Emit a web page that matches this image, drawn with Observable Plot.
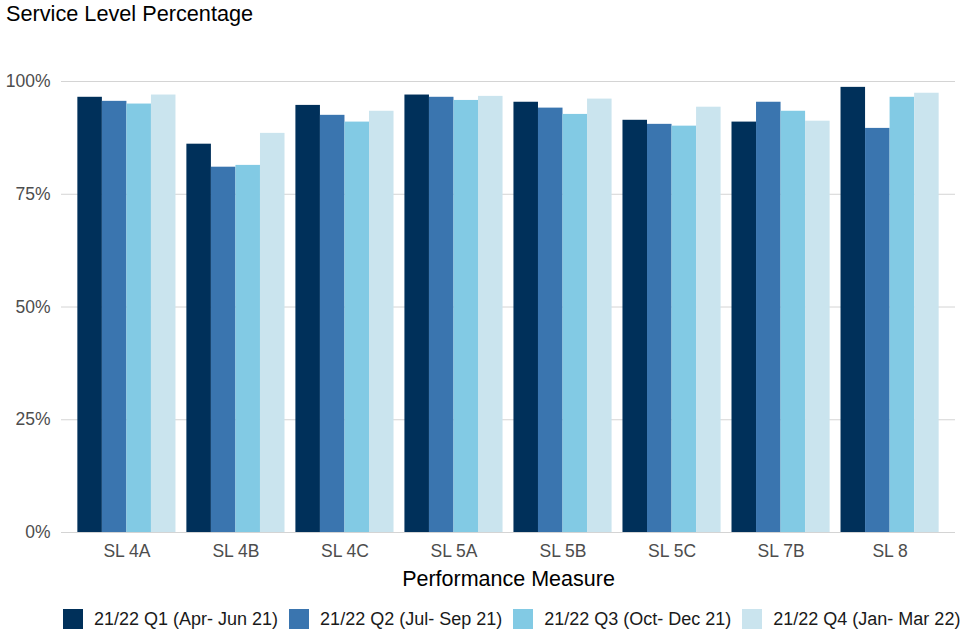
<!DOCTYPE html>
<html>
<head>
<meta charset="utf-8">
<script src="https://cdn.jsdelivr.net/npm/d3@7"></script>
<script src="https://cdn.jsdelivr.net/npm/@observablehq/plot@0.6"></script>
<style>
  html, body { margin: 0; padding: 0; background: #fff; }
  body { width: 960px; height: 640px; overflow: hidden; font-family: "Liberation Sans", Arial, sans-serif; }
  #title { height: 28px; line-height: 28px; font-size: 21.7px; padding-left: 6px; color: #000; white-space: nowrap; }
  #chart svg { display: block; }
  #legend { display: flex; align-items: center; padding-left: 63px; padding-top: 3px; height: 20px; white-space: nowrap; font-size: 18px; color: #1a1a1a; }
  .item { display: flex; align-items: center; margin-right: 11px; flex: none; }
  .sw { width: 20px; height: 20px; margin-right: 11px; flex: none; }
</style>
</head>
<body>
<div id="title">Service Level Percentage</div>
<div id="chart"></div>
<div id="legend"></div>
<script>
const categories = ["SL 4A", "SL 4B", "SL 4C", "SL 5A", "SL 5B", "SL 5C", "SL 7B", "SL 8"];
const quarters = ["21/22 Q1 (Apr- Jun 21)", "21/22 Q2 (Jul- Sep 21)", "21/22 Q3 (Oct- Dec 21)", "21/22 Q4 (Jan- Mar 22)"];
const q1 = [96.5, 86.1, 94.7, 97.0, 95.4, 91.4, 91.0, 98.7];
const q2 = [95.6, 81.0, 92.5, 96.5, 94.1, 90.5, 95.4, 89.6];
const q3 = [95.0, 81.4, 91.0, 95.8, 92.7, 90.1, 93.4, 96.5];
const q4 = [97.0, 88.5, 93.4, 96.7, 96.1, 94.3, 91.2, 97.4];
const colors = ["#00305a", "#3a75af", "#82cae4", "#cae4ee"];
const yTicks = [0, 25, 50, 75, 100];

const series = [q1, q2, q3, q4];
const data = [];
series.forEach((vals, qi) => vals.forEach((v, ci) => data.push({cat: categories[ci], quarter: quarters[qi], qi, value: v})));

const W = 960, H = 578, mL = 61, mR = 5, mT = 53, mB = 74;
const xOpts = {type: "band", domain: categories, range: [mL, W - mR], paddingInner: 0.1, paddingOuter: 0.15, round: false};
const bw = Plot.scale({x: xOpts}).bandwidth;
const n = quarters.length;

const barMarks = quarters.map((q, i) =>
  Plot.barY(data.filter(d => d.qi === i), {
    x: "cat", y: "value", fill: "quarter",
    insetLeft: i * bw / n, insetRight: (n - 1 - i) * bw / n
  })
);

const chart = Plot.plot({
  width: W, height: H,
  marginLeft: mL, marginRight: mR, marginTop: mT, marginBottom: mB,
  style: {fontFamily: "'Liberation Sans', Arial, sans-serif", color: "#4d4d4d", background: "#fff"},
  x: xOpts,
  y: {domain: [0, 100]},
  color: {domain: quarters, range: colors},
  marks: [
    Plot.gridY(yTicks, {stroke: "#d4d4d4", strokeOpacity: 1, strokeWidth: 1}),
    ...barMarks,
    Plot.axisY({ticks: yTicks, tickFormat: d => d + "%", tickSize: 0, tickPadding: 11, fontSize: 17.5, label: null}),
    Plot.axisX({tickSize: 0, tickPadding: 12, fontSize: 17.5, label: null}),
    Plot.text(["Performance Measure"], {frameAnchor: "bottom", dy: 47, lineAnchor: "middle", fontSize: 21.5, fill: "#000", text: d => d})
  ]
});
document.getElementById("chart").appendChild(chart);

const legend = document.getElementById("legend");
quarters.forEach((q, i) => {
  const item = document.createElement("div");
  item.className = "item";
  const sw = document.createElement("div");
  sw.className = "sw";
  sw.style.background = colors[i];
  const lab = document.createElement("span");
  lab.textContent = q;
  item.appendChild(sw);
  item.appendChild(lab);
  legend.appendChild(item);
});
</script>
</body>
</html>
